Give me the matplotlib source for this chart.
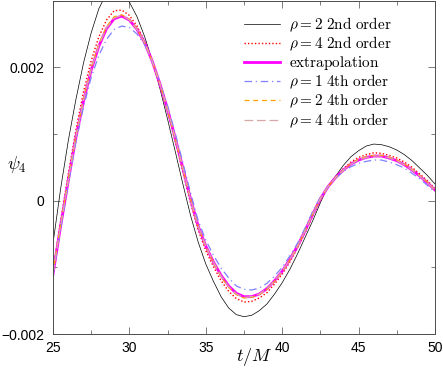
import matplotlib
matplotlib.use('Agg')
import matplotlib.pyplot as plt
from matplotlib.ticker import FixedLocator, FixedFormatter, MultipleLocator

# time axis (t/M) shared by all series
t = [25.0, 25.5, 26.0, 26.5, 27.0, 27.5, 28.0, 28.5, 29.0, 29.5,
     30.0, 30.5, 31.0, 31.5, 32.0, 32.5, 33.0, 33.5, 34.0, 34.5,
     35.0, 35.5, 36.0, 36.5, 37.0, 37.5, 38.0, 38.5, 39.0, 39.5,
     40.0, 40.5, 41.0, 41.5, 42.0, 42.5, 43.0, 43.5, 44.0, 44.5,
     45.0, 45.5, 46.0, 46.5, 47.0, 47.5, 48.0, 48.5, 49.0, 49.5, 50.0]

rho2_2nd = [-0.00064, 0.00018, 0.00090, 0.00152, 0.00207, 0.00252, 0.00288, 0.00311, 0.00320, 0.00313,
            0.00298, 0.00276, 0.00246, 0.00210, 0.00168, 0.00122, 0.00074, 0.00025, -0.00022, -0.00062,
            -0.00095, -0.00121, -0.00144, -0.00161, -0.00171, -0.00174, -0.00172, -0.00165, -0.00155, -0.00140,
            -0.00123, -0.00103, -0.00080, -0.00055, -0.00030, -0.00003, 0.00022, 0.00037, 0.00053, 0.00066,
            0.00075, 0.00082, 0.00085, 0.00084, 0.00081, 0.00076, 0.00069, 0.00060, 0.00049, 0.00038, 0.00025]

rho4_2nd = [-0.00105, -0.00030, 0.00040, 0.00106, 0.00164, 0.00210, 0.00246, 0.00271, 0.00285, 0.00286,
            0.00278, 0.00262, 0.00239, 0.00209, 0.00173, 0.00133, 0.00089, 0.00043, -0.00003, -0.00044,
            -0.00075, -0.00099, -0.00120, -0.00136, -0.00147, -0.00152, -0.00151, -0.00146, -0.00138, -0.00125,
            -0.00110, -0.00092, -0.00071, -0.00048, -0.00023, 0.00001, 0.00021, 0.00036, 0.00048, 0.00058,
            0.00065, 0.00069, 0.00072, 0.00071, 0.00068, 0.00064, 0.00058, 0.00050, 0.00040, 0.00030, 0.00018]

extrap = [-0.00110, -0.00038, 0.00030, 0.00095, 0.00150, 0.00196, 0.00232, 0.00258, 0.00273, 0.00277,
          0.00271, 0.00257, 0.00237, 0.00209, 0.00175, 0.00137, 0.00094, 0.00049, 0.00003, -0.00038,
          -0.00068, -0.00092, -0.00112, -0.00128, -0.00139, -0.00144, -0.00144, -0.00140, -0.00132, -0.00120,
          -0.00106, -0.00088, -0.00068, -0.00045, -0.00020, 0.00003, 0.00021, 0.00035, 0.00046, 0.00055,
          0.00061, 0.00065, 0.00067, 0.00067, 0.00064, 0.00060, 0.00054, 0.00046, 0.00037, 0.00027, 0.00016]

rho1_4th = [-0.00112, -0.00042, 0.00025, 0.00088, 0.00141, 0.00185, 0.00218, 0.00242, 0.00257, 0.00262,
            0.00260, 0.00250, 0.00234, 0.00209, 0.00177, 0.00142, 0.00101, 0.00057, 0.00012, -0.00030,
            -0.00059, -0.00082, -0.00101, -0.00116, -0.00128, -0.00133, -0.00134, -0.00131, -0.00124, -0.00113,
            -0.00100, -0.00083, -0.00064, -0.00041, -0.00016, 0.00005, 0.00021, 0.00034, 0.00044, 0.00051,
            0.00056, 0.00059, 0.00061, 0.00061, 0.00058, 0.00054, 0.00049, 0.00041, 0.00033, 0.00023, 0.00013]

rho2_4th = [-0.00108, -0.00036, 0.00032, 0.00097, 0.00153, 0.00199, 0.00235, 0.00261, 0.00276, 0.00279,
            0.00272, 0.00258, 0.00237, 0.00209, 0.00175, 0.00136, 0.00093, 0.00048, 0.00002, -0.00039,
            -0.00069, -0.00093, -0.00114, -0.00130, -0.00141, -0.00146, -0.00145, -0.00141, -0.00133, -0.00121,
            -0.00107, -0.00089, -0.00069, -0.00045, -0.00020, 0.00003, 0.00021, 0.00035, 0.00046, 0.00056,
            0.00062, 0.00066, 0.00068, 0.00068, 0.00065, 0.00061, 0.00055, 0.00047, 0.00038, 0.00028, 0.00016]

rho4_4th = [-0.00109, -0.00037, 0.00031, 0.00096, 0.00151, 0.00197, 0.00233, 0.00259, 0.00274, 0.00278,
            0.00271, 0.00257, 0.00237, 0.00209, 0.00175, 0.00137, 0.00094, 0.00049, 0.00003, -0.00038,
            -0.00068, -0.00092, -0.00113, -0.00129, -0.00140, -0.00145, -0.00144, -0.00140, -0.00132, -0.00120,
            -0.00106, -0.00088, -0.00068, -0.00045, -0.00020, 0.00003, 0.00021, 0.00035, 0.00046, 0.00055,
            0.00061, 0.00065, 0.00067, 0.00067, 0.00064, 0.00060, 0.00054, 0.00046, 0.00037, 0.00027, 0.00016]

labels = [r'$\rho = 2\ \mathrm{2nd\ order}$', r'$\rho = 4\ \mathrm{2nd\ order}$', r'$\mathrm{extrapolation}$',
          r'$\rho = 1\ \mathrm{4th\ order}$', r'$\rho = 2\ \mathrm{4th\ order}$', r'$\rho = 4\ \mathrm{4th\ order}$']

xticks = [25, 30, 35, 40, 45, 50]
yticks = [-0.002, 0, 0.002]
ytick_labels = ['\u22120.002', '0', '0.002']

plt.rcParams['mathtext.fontset'] = 'cm'
plt.rcParams['font.family'] = 'Liberation Sans'

fig = plt.figure(figsize=(4.43, 3.73), dpi=100)
ax = fig.add_axes([53 / 443, 1 - 334 / 373, 382 / 443, 334 / 373 - 0.002])

ax.plot(t, rho2_2nd, color='k', lw=0.5, label=labels[0])
ax.plot(t, rho4_2nd, color='#ff0000', lw=1.0, ls=(0, (1, 1.5)), label=labels[1])
ax.plot(t, extrap, color='#ff00ff', lw=2.0, label=labels[2])
ax.plot(t, rho1_4th, color='#8080ff', lw=0.9, ls=(0, (6, 3, 1, 3)), label=labels[3])
ax.plot(t, rho2_4th, color='#ffa500', lw=0.9, ls=(0, (4, 3)), label=labels[4])
ax.plot(t, rho4_4th, color='#d8a8a8', lw=0.9, ls=(0, (7, 3)), label=labels[5])

ax.set_xlim(25, 50)
ax.set_ylim(-0.002, 0.003)
ax.xaxis.set_major_locator(FixedLocator(xticks))
ax.xaxis.set_minor_locator(MultipleLocator(2.5))
ax.yaxis.set_major_locator(FixedLocator(yticks))
ax.yaxis.set_major_formatter(FixedFormatter(ytick_labels))
ax.yaxis.set_minor_locator(MultipleLocator(0.001))
ax.tick_params(which='both', direction='in', top=True, right=True, labelsize=10, color='0.4')
ax.tick_params(which='major', length=5, width=0.6)
ax.tick_params(which='minor', length=3, width=0.6)
ax.tick_params(axis='y', pad=6)
ax.tick_params(axis='x', pad=5)
for s in ax.spines.values():
    s.set_linewidth(0.7)
    s.set_color('0.3')

ax.set_xlabel(r'$t/M$', fontsize=13)
ax.xaxis.set_label_coords(0.526, -0.035)
ax.set_ylabel(r'$\psi_4$', fontsize=13, rotation=0, va='center')
ax.yaxis.set_label_coords(-0.095, 0.51)

ax.legend(loc='upper left', bbox_to_anchor=(0.499, 0.955), frameon=False, fontsize=11,
          handlelength=2.4, handletextpad=0.6, labelspacing=0.05, borderpad=0, borderaxespad=0)

fig.savefig('out.png', dpi=100)
